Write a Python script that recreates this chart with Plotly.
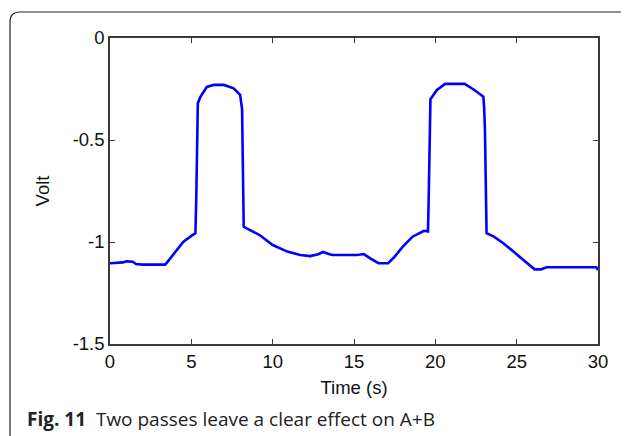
import plotly.graph_objects as go

time_s = [0, 0.8, 1.0, 1.4, 1.6, 2.0, 3.4, 3.9, 4.5, 5.0, 5.25, 5.3, 5.35, 5.4, 5.55, 5.95, 6.4, 7.0, 7.6, 8.0,
          8.12, 8.17, 8.22, 8.4, 9.2, 10.0, 10.9, 11.7, 12.3, 12.8, 13.1, 13.5, 13.7, 15.2, 15.6, 16.0, 16.5,
          17.1, 17.5, 18.0, 18.6, 19.3, 19.55, 19.6, 19.65, 19.7, 20.1, 20.6, 21.8, 22.4, 22.95, 23.0, 23.05,
          23.1, 23.15, 23.6, 24.2, 24.8, 25.4, 26.1, 26.5, 26.85, 29.9, 30.0]
volt = [-1.104, -1.100, -1.095, -1.097, -1.108, -1.111, -1.111, -1.06, -1.0, -0.97, -0.957, -0.80, -0.55, -0.32,
        -0.29, -0.24, -0.229, -0.230, -0.247, -0.279, -0.35, -0.63, -0.925, -0.933, -0.966, -1.015, -1.047,
        -1.064, -1.069, -1.06, -1.049, -1.06, -1.064, -1.064, -1.059, -1.08, -1.104, -1.104, -1.072, -1.023,
        -0.974, -0.945, -0.948, -0.75, -0.5, -0.30, -0.255, -0.225, -0.225, -0.255, -0.288, -0.34, -0.45,
        -0.76, -0.957, -0.974, -1.007, -1.047, -1.088, -1.134, -1.134, -1.124, -1.124, -1.137]

x_ticks = [0, 5, 10, 15, 20, 25, 30]
y_ticks = [0, -0.5, -1, -1.5]
y_tick_text = ["0", "-0.5", "-1", "-1.5"]

OFF = 8  # page body margin
W, H = 629 - OFF, 436 - OFF
L, T = 110 - OFF, 38 - OFF
R = W - (598 - OFF)
B = H - (344 - OFF)
PW, PH = W - L - R, H - T - B


def px(x):
    return (x - OFF - L) / PW


def py(y):
    return (H - B - (y - OFF)) / PH


fig = go.Figure()
fig.add_trace(go.Scatter(x=time_s, y=volt, mode="lines",
                         line=dict(color="#0000ff", width=2.6), showlegend=False))

axis_common = dict(showline=True, mirror="ticks", linecolor="#3a3a3a", linewidth=1.5,
                   ticks="inside", ticklen=5, tickcolor="#3a3a3a", tickwidth=1.2,
                   showgrid=False, zeroline=False,
                   tickfont=dict(family="Liberation Sans, Arial", size=18.5, color="#111"),
                   title_font=dict(family="Liberation Sans, Arial", size=18.5, color="#111"))

fig.update_xaxes(range=[0, 30], tickvals=x_ticks, ticktext=[str(v) for v in x_ticks],
                 title_text="Time (s)", title_standoff=10, **axis_common)
fig.update_yaxes(range=[-1.5, 0], tickvals=y_ticks, ticktext=y_tick_text,
                 title_text="Volt", title_standoff=18, **axis_common)

# rounded frame
pts = f"M {px(10)},{py(445)} L {px(10)},{py(22)} Q {px(10)},{py(12)} {px(20)},{py(12)} " \
      f"L {px(626)},{py(12)} Q {px(636)},{py(12)} {px(636)},{py(22)} L {px(636)},{py(445)}"
fig.add_shape(type="path", path=pts, xref="paper", yref="paper",
              line=dict(color="#222", width=1.2))

fig.add_annotation(x=px(25), y=py(419), xref="paper", yref="paper", xanchor="left", yanchor="middle",
                   showarrow=False,
                   text="<b>Fig. 11</b>&nbsp;&nbsp;Two passes leave a clear effect on A+B",
                   font=dict(family="Open Sans", size=19, color="#222"))

fig.update_layout(width=W, height=H, margin=dict(l=L, r=R, t=T, b=B),
                  paper_bgcolor="white", plot_bgcolor="white")

fig.write_html("out.html")
